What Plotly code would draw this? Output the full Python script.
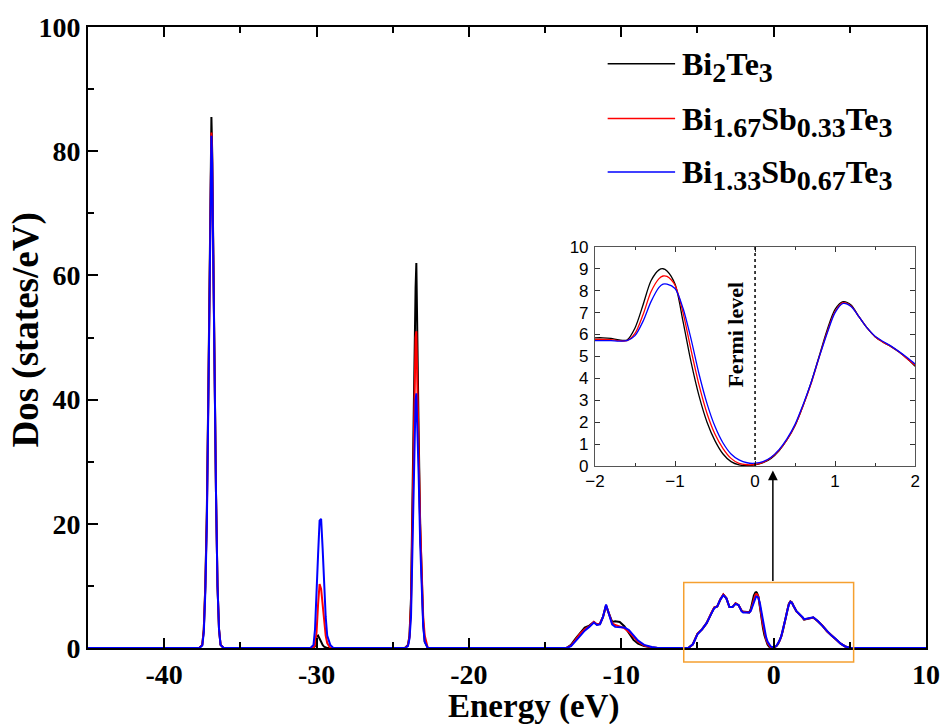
import plotly.graph_objects as go

# ---------------- data ----------------
series_labels = [
    [("Bi", "2"), ("Te", "3")],
    [("Bi", "1.67"), ("Sb", "0.33"), ("Te", "3")],
    [("Bi", "1.33"), ("Sb", "0.67"), ("Te", "3")],
]
series_colors = ["#000000", "#ff0000", "#0000ff"]

# band around -37 eV
e_band1 = [-45, -37.7, -37.5, -37.4, -37.3, -37.2, -37.1, -37.0, -36.95, -36.9,
           -36.85, -36.8, -36.7, -36.6, -36.5, -36.4, -36.3, -36.1]
dos_band1_a = [0, 0, 0.5, 3, 10, 22, 42, 65, 80, 85.5, 80, 68, 45, 25, 10, 3, 0.5, 0]
dos_band1_b = [0, 0, 0.5, 3, 10, 21, 41, 63, 78, 83, 79, 67, 44, 25, 10, 3, 0.5, 0]
dos_band1_c = [0, 0, 0.4, 2.5, 9, 20, 40, 62, 77, 82.5, 78, 66, 44, 25, 10, 3, 0.5, 0]

# band around -30 eV
e_band2 = [-30.4, -30.2, -30.1, -30.0, -29.9, -29.8, -29.7, -29.6, -29.5, -29.4, -29.3, -29.1, -28.9]
dos_band2_a = [0, 0, 0.3, 1.8, 2.0, 1.6, 1.0, 0.5, 0.2, 0.1, 0, 0, 0]
dos_band2_b = [0, 0, 0.5, 2.5, 7, 10.3, 9.5, 7, 4, 2, 0.8, 0, 0]
dos_band2_c = [0, 0.5, 3, 8, 15, 20.5, 20.8, 16, 10, 5, 2, 0.5, 0]

# band around -23.5 eV
e_band3 = [-24.2, -24.0, -23.9, -23.8, -23.7, -23.6, -23.55, -23.5, -23.45, -23.4,
           -23.3, -23.2, -23.1, -23.0, -22.9, -22.7]
dos_band3_a = [0, 0.5, 2, 8, 25, 42, 55, 58, 62, 55, 35, 20, 10, 4, 1, 0]
dos_band3_b = [0, 0.4, 1.8, 7, 22, 35, 45, 50, 51, 46, 32, 20, 11, 5, 2, 0]
dos_band3_c = [0, 0.3, 1.5, 5, 18, 30, 37, 40, 41, 37, 28, 17, 9, 3.5, 1, 0]

# band from -13.6 to -7.6 eV
e_band4 = [-13.6, -13.3, -13.0, -12.7, -12.4, -12.1, -11.8, -11.6, -11.4, -11.2, -11.0,
           -10.8, -10.6, -10.4, -10.1, -9.8, -9.5, -9.2, -8.9, -8.5, -8.0, -7.6]
dos_band4_a = [0, 0.5, 1.5, 2.5, 3.3, 3.6, 4.2, 3.8, 3.9, 5.0, 6.8, 5.5, 4.2, 4.3, 4.2, 3.5, 2.3, 1.3, 0.7, 0.3, 0.1, 0]
dos_band4_b = [0, 0.4, 1.3, 2.3, 3.0, 3.5, 4.2, 3.8, 3.9, 5.0, 6.9, 5.5, 4.0, 3.7, 3.5, 3.2, 2.6, 1.8, 1.0, 0.4, 0.1, 0]
dos_band4_c = [0, 0.3, 1.1, 2.0, 2.8, 3.4, 4.1, 3.7, 3.8, 5.0, 7.0, 5.4, 3.8, 3.4, 3.3, 3.3, 2.9, 2.1, 1.2, 0.5, 0.15, 0]

# valence band below -2 eV
e_band5_low = [-5.6, -5.3, -5.0, -4.7, -4.4, -4.1, -3.9, -3.7, -3.5, -3.3, -3.1, -2.9, -2.7, -2.5, -2.3, -2.1]
dos_band5_low_a = [0, 0.6, 2.3, 3.0, 4.0, 5.6, 6.5, 6.7, 7.8, 8.6, 8.0, 6.6, 6.6, 7.2, 6.9, 6.0]
dos_band5_low_b = [0, 0.6, 2.3, 3.0, 4.0, 5.6, 6.5, 6.7, 7.8, 8.6, 8.0, 6.6, 6.6, 7.2, 6.9, 6.0]
dos_band5_low_c = [0, 0.6, 2.2, 3.0, 4.0, 5.5, 6.4, 6.7, 7.8, 8.5, 8.0, 6.6, 6.6, 7.1, 6.9, 5.9]

# near Fermi level (also shown in the inset)
e_fermi = [-2.0, -1.9, -1.8, -1.7, -1.6, -1.5, -1.4, -1.3, -1.2, -1.15, -1.1, -1.0, -0.9, -0.8,
           -0.7, -0.6, -0.5, -0.4, -0.3, -0.2, -0.1, 0.0, 0.1, 0.2, 0.3, 0.4, 0.5, 0.6, 0.7,
           0.8, 0.9, 1.0, 1.1, 1.2, 1.3, 1.4, 1.5, 1.6, 1.7, 1.8, 1.9, 2.0]
dos_fermi_a = [5.85, 5.85, 5.82, 5.75, 5.75, 6.3, 7.35, 8.45, 8.95, 9.0, 8.9, 8.3, 6.6, 4.75,
               3.2, 2.0, 1.15, 0.55, 0.2, 0.05, 0.02, 0.05, 0.15, 0.35, 0.7, 1.2, 1.85, 2.75, 3.8,
               5.0, 6.2, 7.15, 7.5, 7.35, 6.8, 6.3, 5.9, 5.65, 5.45, 5.2, 4.9, 4.55]
dos_fermi_b = [5.78, 5.78, 5.77, 5.72, 5.72, 6.05, 6.9, 7.95, 8.55, 8.67, 8.65, 8.25, 7.0, 5.3,
               3.7, 2.4, 1.45, 0.8, 0.35, 0.12, 0.06, 0.07, 0.17, 0.38, 0.72, 1.2, 1.85, 2.75, 3.75,
               4.95, 6.1, 7.05, 7.45, 7.3, 6.8, 6.3, 5.9, 5.65, 5.45, 5.2, 4.9, 4.6]
dos_fermi_c = [5.72, 5.72, 5.72, 5.7, 5.72, 5.95, 6.6, 7.5, 8.15, 8.3, 8.3, 8.1, 7.2, 5.8,
               4.2, 2.85, 1.8, 1.05, 0.55, 0.28, 0.15, 0.13, 0.2, 0.4, 0.75, 1.25, 1.9, 2.8, 3.8,
               4.95, 6.05, 7.0, 7.42, 7.28, 6.8, 6.3, 5.92, 5.68, 5.47, 5.22, 4.95, 4.65]

# conduction band above 2 eV
e_band5_high = [2.3, 2.6, 2.9, 3.2, 3.5, 3.8, 4.1, 4.4, 4.7, 5.0, 5.3, 10]
dos_band5_high_a = [4.7, 4.9, 4.3, 3.6, 2.7, 2.0, 1.4, 0.7, 0.25, 0.05, 0, 0]
dos_band5_high_b = [4.7, 4.9, 4.3, 3.6, 2.7, 2.0, 1.4, 0.7, 0.25, 0.05, 0, 0]
dos_band5_high_c = [4.75, 4.95, 4.35, 3.6, 2.7, 2.0, 1.4, 0.7, 0.25, 0.05, 0, 0]

main_xticks = [-40, -30, -20, -10, 0, 10]
main_yticks = [0, 20, 40, 60, 80, 100]
inset_xticks = [-2, -1, 0, 1, 2]
inset_yticks = list(range(0, 11))

# ---------------- assemble ----------------
energy_main = e_band1 + e_band2 + e_band3 + e_band4 + e_band5_low + e_fermi + e_band5_high
dos_main = [
    dos_band1_a + dos_band2_a + dos_band3_a + dos_band4_a + dos_band5_low_a + dos_fermi_a + dos_band5_high_a,
    dos_band1_b + dos_band2_b + dos_band3_b + dos_band4_b + dos_band5_low_b + dos_fermi_b + dos_band5_high_b,
    dos_band1_c + dos_band2_c + dos_band3_c + dos_band4_c + dos_band5_low_c + dos_fermi_c + dos_band5_high_c,
]
dos_inset = [dos_fermi_a, dos_fermi_b, dos_fermi_c]

SERIF = "Liberation Serif, Times New Roman, serif"
SANS = "Liberation Sans, Arial, sans-serif"
LEG_SIZE = 32
SUB_SIZE = 28


def formula(parts, sub_size):
    out = ""
    for el, n in parts:
        out += el + f"<sub><span style='font-size:{sub_size}px'>{n}</span></sub>"
    return "<b>" + out + "</b>"


def formula_plain(parts):
    return "".join(f"{el}<sub>{n}</sub>" for el, n in parts)


fig = go.Figure()
for i in range(3):
    fig.add_trace(go.Scatter(
        x=energy_main, y=dos_main[i], mode="lines", name=formula_plain(series_labels[i]),
        line=dict(color=series_colors[i], width=2), showlegend=False,
        xaxis="x", yaxis="y"))
for i in range(3):
    fig.add_trace(go.Scatter(
        x=e_fermi, y=dos_inset[i], mode="lines", showlegend=False,
        line=dict(color=series_colors[i], width=1.3, shape="spline", smoothing=0.8),
        xaxis="x2", yaxis="y2"))

XR = [-45, 10]
YR = [0, 100]
PLOT_L, PLOT_R, PLOT_T, PLOT_B = 88, 933, 23, 648


def xpaper(v):
    return (v - XR[0]) / (XR[1] - XR[0])


def ypaper(v):
    return (v - YR[0]) / (YR[1] - YR[0])


def px_to_paper_x(px):
    return (px - PLOT_L) / (PLOT_R - PLOT_L)


def px_to_paper_y(py):
    return (PLOT_B - py) / (PLOT_B - PLOT_T)


# legend (drawn by hand to get the long line samples of the original)
legend_rows = [60, 115, 169]
for i, row in enumerate(legend_rows):
    fig.add_shape(type="line", xref="paper", yref="paper",
                  x0=px_to_paper_x(612), x1=px_to_paper_x(680),
                  y0=px_to_paper_y(row), y1=px_to_paper_y(row),
                  line=dict(color=series_colors[i], width=1.5))
    fig.add_annotation(xref="paper", yref="paper", x=px_to_paper_x(685),
                       y=px_to_paper_y(row - 20), xanchor="left", yanchor="top",
                       text=formula(series_labels[i], SUB_SIZE), showarrow=False,
                       font=dict(family=SERIF, size=LEG_SIZE, color="#000000"))

# orange zoom box around the Fermi region
fig.add_shape(type="rect", xref="paper", yref="paper",
              x0=xpaper(-5.9), x1=xpaper(5.25), y0=ypaper(-2.24), y1=ypaper(10.56),
              line=dict(color="#f5a030", width=1.5), layer="above")

# arrow from box to inset
fig.add_annotation(x=-0.05, y=28.6, ax=-0.05, ay=10.56, xref="x", yref="y",
                   axref="x", ayref="y", showarrow=True, arrowhead=2, arrowsize=1.3,
                   arrowwidth=1.5, arrowcolor="#000000", text="")

# Fermi level line in the inset
fig.add_shape(type="line", xref="x2", yref="y2", x0=0, x1=0, y0=0, y1=10,
              line=dict(color="#000000", width=1.5, dash="dot"))
fig.add_annotation(x=-0.25, y=6.0, xref="x2", yref="y2", text="<b>Fermi level</b>",
                   textangle=-90, showarrow=False, xanchor="center", yanchor="middle",
                   font=dict(family=SERIF, size=22, color="#000000"))

# axis titles (placed as in the original, slightly off-centre)
fig.add_annotation(xref="paper", yref="paper", x=px_to_paper_x(537), y=px_to_paper_y(707),
                   text="<b>Energy (eV)</b>", showarrow=False, xanchor="center", yanchor="middle",
                   font=dict(family=SERIF, size=33, color="#000000"))
fig.add_annotation(xref="paper", yref="paper", x=px_to_paper_x(26), y=px_to_paper_y(328),
                   text="<b>Dos (states/eV)</b>", showarrow=False, textangle=-90,
                   xanchor="center", yanchor="middle",
                   font=dict(family=SERIF, size=37, color="#000000"))

axis_font = dict(family=SERIF, size=28, color="#000000")
fig.update_layout(
    width=952, height=724,
    margin=dict(l=PLOT_L, r=952 - PLOT_R, t=PLOT_T, b=724 - PLOT_B),
    paper_bgcolor="white", plot_bgcolor="rgba(0,0,0,0)",
    showlegend=False,
    xaxis=dict(domain=[0, 1], range=XR, tickvals=main_xticks,
               ticktext=[f"<b>{v}</b>" for v in main_xticks],
               ticks="inside", ticklen=10, tickwidth=2, tickcolor="#000000",
               minor=dict(dtick=5, tick0=0, ticks="inside", ticklen=6, tickwidth=2, tickcolor="#000000"),
               showline=True, linewidth=2, linecolor="#000000", mirror="ticks",
               showgrid=False, zeroline=False, tickfont=axis_font),
    yaxis=dict(domain=[0, 1], range=YR, tickvals=main_yticks,
               ticktext=[f"<b>{v}</b>" for v in main_yticks],
               ticks="inside", ticklen=10, tickwidth=2, tickcolor="#000000",
               minor=dict(dtick=10, tick0=0, ticks="inside", ticklen=6, tickwidth=2, tickcolor="#000000"),
               showline=True, linewidth=2, linecolor="#000000", mirror=True,
               showgrid=False, zeroline=False, tickfont=axis_font),
    xaxis2=dict(domain=[0.605, 0.987], anchor="y2", range=[-2, 2], tickvals=inset_xticks,
                ticks="inside", ticklen=5, tickwidth=1, tickcolor="#333333",
                minor=dict(dtick=0.5, tick0=0, ticks="inside", ticklen=3, tickwidth=1, tickcolor="#333333"),
                showline=True, linewidth=1, linecolor="#555555", mirror="ticks",
                showgrid=False, zeroline=False,
                tickfont=dict(family=SANS, size=17, color="#000000")),
    yaxis2=dict(domain=[0.293, 0.646], anchor="x2", range=[0, 10], tickvals=inset_yticks,
                ticks="inside", ticklen=5, tickwidth=1, tickcolor="#333333",
                showline=True, linewidth=1, linecolor="#555555", mirror="ticks",
                showgrid=False, zeroline=False, ticklabelstandoff=2,
                tickfont=dict(family=SANS, size=17, color="#000000")),
)

fig.write_html("out.html")
